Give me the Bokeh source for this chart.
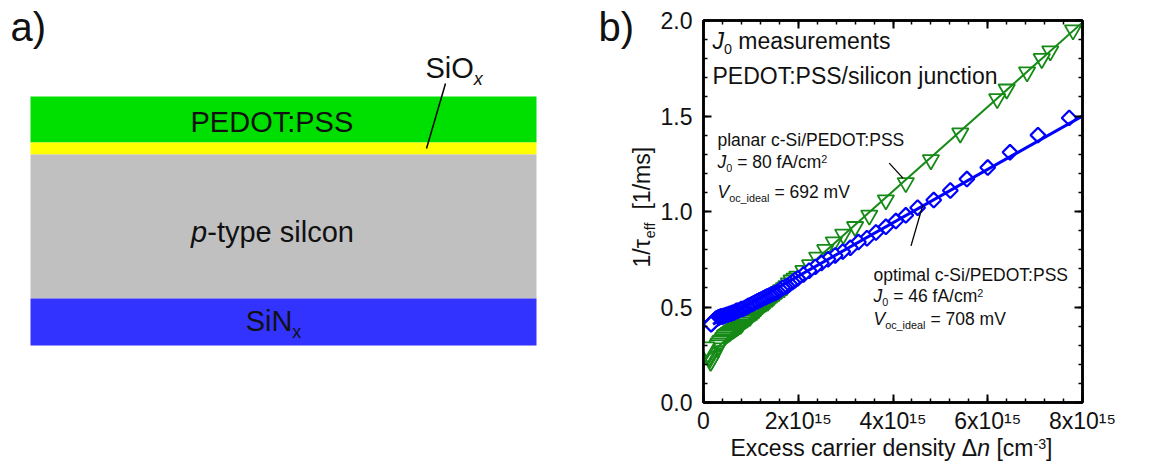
import math
from bokeh.plotting import figure
from bokeh.models import Range1d, LinearAxis, FixedTicker, Label, CustomJSTickFormatter
from bokeh.layouts import row, column
from bokeh.embed import file_html
from bokeh.resources import INLINE

# ---------------- data ----------------
layer_names = ["PEDOT:PSS", "SiOx", "p-type silcon", "SiNx"]
layer_colors = ["#00e000", "#ffff00", "#c0c0c0", "#3333ff"]
layer_thickness = [46, 12, 144, 47]

# excess carrier density in units of 1e15 cm^-3, inverse lifetime in 1/ms
green_dn = [7.80, 7.32, 7.14, 6.83, 6.40, 6.20, 5.42, 4.80, 4.27, 3.85, 3.50, 3.20,
            2.95, 2.75, 2.57, 2.40, 2.25, 2.11,
            1.98, 1.92, 1.86, 1.80, 1.75, 1.70, 1.64, 1.59, 1.54, 1.49, 1.45, 1.40,
            1.36, 1.32, 1.28, 1.24, 1.20, 1.16, 1.12, 1.08, 1.05, 1.01, 0.98, 0.94,
            0.91, 0.88, 0.85, 0.82, 0.79, 0.76, 0.73, 0.70, 0.67, 0.64, 0.61, 0.58,
            0.56, 0.53, 0.50, 0.47, 0.45, 0.42, 0.40, 0.37, 0.35, 0.32, 0.30, 0.28,
            0.26, 0.24, 0.22, 0.20, 0.18, 0.16, 0.15, 0.13, 0.12, 0.10, 0.09, 0.07, 0.06]
green_inv_tau = [1.95, 1.84, 1.80, 1.73, 1.64, 1.59, 1.41, 1.27, 1.15, 1.06, 0.98, 0.92,
                 0.88, 0.84, 0.80, 0.76, 0.72, 0.69,
                 0.66, 0.65, 0.64, 0.625, 0.61, 0.60, 0.59, 0.58, 0.57, 0.56, 0.55, 0.54,
                 0.53, 0.525, 0.52, 0.51, 0.50, 0.49, 0.48, 0.475, 0.47, 0.46, 0.45, 0.445,
                 0.44, 0.435, 0.43, 0.42, 0.41, 0.405, 0.40, 0.395, 0.39, 0.385, 0.38, 0.375,
                 0.37, 0.365, 0.36, 0.355, 0.35, 0.34, 0.33, 0.325, 0.32, 0.31, 0.30, 0.285,
                 0.27, 0.26, 0.25, 0.24, 0.23, 0.22, 0.215, 0.23, 0.24, 0.25, 0.26, 0.28, 0.29]
blue_dn = [7.72, 7.06, 6.47, 6.00, 5.56, 5.21, 4.86, 4.52, 4.27, 4.06, 3.85, 3.64,
           3.45, 3.27, 3.10, 2.94, 2.78, 2.63, 2.49, 2.36, 2.23, 2.11,
           1.99, 1.93, 1.88, 1.82, 1.77, 1.72, 1.67, 1.62, 1.57, 1.52, 1.48, 1.43,
           1.39, 1.34, 1.30, 1.26, 1.22, 1.18, 1.14, 1.10, 1.06, 1.02, 0.98, 0.94,
           0.91, 0.87, 0.84, 0.80, 0.77, 0.73, 0.70, 0.67, 0.64, 0.61, 0.58, 0.55,
           0.52, 0.49, 0.46, 0.43, 0.41, 0.38, 0.36, 0.33, 0.31, 0.29, 0.27, 0.25,
           0.23, 0.21, 0.19, 0.17, 0.16]
blue_inv_tau = [1.49, 1.40, 1.31, 1.23, 1.17, 1.11, 1.06, 1.02, 0.98, 0.95, 0.92, 0.89,
                0.86, 0.84, 0.81, 0.79, 0.77, 0.75, 0.73, 0.71, 0.69, 0.67,
                0.65, 0.64, 0.63, 0.62, 0.61, 0.605, 0.60, 0.59, 0.58, 0.575, 0.57, 0.565,
                0.56, 0.555, 0.55, 0.545, 0.54, 0.535, 0.53, 0.525, 0.52, 0.515, 0.51, 0.505,
                0.50, 0.495, 0.49, 0.49, 0.485, 0.48, 0.48, 0.475, 0.47, 0.47, 0.465, 0.465,
                0.46, 0.46, 0.455, 0.455, 0.45, 0.45, 0.45, 0.445, 0.445, 0.44, 0.44, 0.435,
                0.43, 0.425, 0.42, 0.415, 0.41]
green_fit_dn = [0.12, 8.0]
green_fit_inv_tau = [0.25, 1.99]
blue_fit_dn = [0.20, 8.0]
blue_fit_inv_tau = [0.41, 1.50]

x_tick_values = [0, 2, 4, 6, 8]
x_tick_labels = ["0", "2x10\u00b9\u2075", "4x10\u00b9\u2075", "6x10\u00b9\u2075", "8x10\u00b9\u2075"]
y_tick_values = [0.0, 0.5, 1.0, 1.5, 2.0]
y_tick_labels = ["0.0", "0.5", "1.0", "1.5", "2.0"]

# ---------------- styling helpers ----------------
FONT = "Liberation Sans"
TXT = "#111111"
GREEN = "#168a16"
BLUE = "#0000ff"
BASELINE_FIX = 0.33  # Label draws a little below the requested alphabetic baseline

ARIAL = {' ': 278, '!': 278, '(': 333, ')': 333, '-': 333, '.': 278, '/': 278, ':': 278,
         '=': 584, '[': 278, ']': 278, '_': 556, '\u0394': 668, '\u03c4': 440,
         'A': 667, 'B': 667, 'C': 722, 'D': 722, 'E': 667, 'F': 611, 'G': 778, 'H': 722,
         'I': 278, 'J': 500, 'K': 667, 'L': 556, 'M': 833, 'N': 722, 'O': 778, 'P': 667,
         'Q': 778, 'R': 722, 'S': 667, 'T': 611, 'U': 722, 'V': 667, 'W': 944, 'X': 667,
         'Y': 667, 'Z': 611, 'a': 556, 'b': 556, 'c': 500, 'd': 556, 'e': 556, 'f': 278,
         'g': 556, 'h': 556, 'i': 222, 'j': 222, 'k': 500, 'l': 222, 'm': 833, 'n': 556,
         'o': 556, 'p': 556, 'q': 556, 'r': 333, 's': 500, 't': 278, 'u': 556, 'v': 500,
         'w': 722, 'x': 500, 'y': 500, 'z': 500}


def text_width(s, size):
    return sum(ARIAL.get(c, 556) for c in s) * size / 1000.0


def run_size(style, size):
    return size * 0.62 if ("sub" in style or "sup" in style) else size


def rich(fig, x, y, runs, size, angle=0.0, align="left", color=TXT):
    """Place a line of mixed-style text; x, y are canvas pixels of the baseline start."""
    total = sum(text_width(t, run_size(st, size)) for t, st in runs)
    dx, dy = math.cos(angle), -math.sin(angle)
    px, py = math.sin(angle), math.cos(angle)
    if align == "center":
        x -= dx * total / 2
        y -= dy * total / 2
    cx, cy = x, y
    for t, st in runs:
        s = run_size(st, size)
        shift = -BASELINE_FIX * s
        if "sub" in st:
            shift += size * 0.24
        elif "sup" in st:
            shift -= size * 0.30
        lead = text_width(t[:len(t) - len(t.lstrip())], s)
        body = t.strip()
        bx, by = cx + dx * lead, cy + dy * lead
        if body:
            fig.add_layout(Label(x=bx + shift * px, y=by + shift * py,
                                 x_units="canvas", y_units="canvas", text=body, angle=angle,
                                 text_font=FONT, text_font_size=f"{s:.1f}px",
                                 text_font_style="italic" if st.startswith("i") else "normal",
                                 text_color=color, text_baseline="alphabetic",
                                 text_align="left"))
        w = text_width(t, s)
        cx += dx * w
        cy += dy * w


def no_align(fig):
    if "frame_align" in fig.properties():
        fig.frame_align = False


def blank_canvas(width, height):
    f = figure(width=width, height=height, x_range=Range1d(0, width),
               y_range=Range1d(height, 0), output_backend="svg", toolbar_location=None,
               min_border=0, x_axis_location=None, y_axis_location=None)
    f.grid.visible = False
    f.outline_line_color = None
    f.background_fill_color = "white"
    f.border_fill_color = "white"
    no_align(f)
    return f


# ---------------- panel a: layer stack (plus texts left of panel b) ----------------
left = blank_canvas(657, 466)

stack_top = 96
tops, bottoms = [], []
cur = stack_top
for t in layer_thickness:
    tops.append(cur)
    bottoms.append(cur + t)
    cur += t
left.quad(left=30, right=536, top=tops, bottom=bottoms, fill_color=layer_colors,
          line_color=None)

rich(left, 10, 40, [("a)", "")], 40)
rich(left, 273, 131, [(layer_names[0], "")], 29, align="center")
rich(left, 272, 241, [("p", "i"), ("-type silcon", "")], 29, align="center")
rich(left, 273, 330, [("SiN", ""), ("x", "sub")], 29, align="center")
rich(left, 425, 77, [("SiO", ""), ("x", "isub")], 29)
left.segment(x0=[445], y0=[83], x1=[426], y1=[148], line_color="black", line_width=1.5)

rich(left, 598, 40, [("b)", "")], 40)
rich(left, 649, 267, [("1/\u03c4", ""), ("eff", "sub"), ("  [1/ms]", "")], 23,
     angle=math.pi / 2)

# ---------------- panel b: J0 measurement ----------------
p = figure(width=492, height=436, x_range=Range1d(0, 8), y_range=Range1d(0, 2),
           output_backend="svg", toolbar_location=None,
           min_border_left=45, min_border_right=67, min_border_top=20, min_border_bottom=33)
no_align(p)
p.grid.visible = False
p.background_fill_color = "white"
p.border_fill_color = "white"
p.outline_line_color = "black"
p.outline_line_width = 2.5

x_minor = [i * 0.4 for i in range(21)]
y_minor = [i * 0.1 for i in range(21)]
xt = FixedTicker(ticks=x_tick_values, minor_ticks=x_minor)
yt = FixedTicker(ticks=y_tick_values, minor_ticks=y_minor)


def style_axis(ax):
    ax.axis_line_width = 2.5
    ax.axis_line_color = "black"
    ax.major_tick_in = 8
    ax.major_tick_out = 0
    ax.minor_tick_in = 4
    ax.minor_tick_out = 0
    ax.major_tick_line_width = 2
    ax.minor_tick_line_width = 1.5
    ax.major_label_text_font = FONT
    ax.major_label_text_font_size = "23px"
    ax.major_label_text_color = TXT


p.xaxis.ticker = xt
p.yaxis.ticker = yt
p.xaxis.major_label_overrides = dict(zip(x_tick_values, x_tick_labels))
p.yaxis.major_label_overrides = dict(zip(y_tick_values, y_tick_labels))
for ax in p.xaxis + p.yaxis:
    style_axis(ax)
p.xaxis.major_label_standoff = 5
p.yaxis.major_label_standoff = 11

top_ax = LinearAxis(ticker=xt, formatter=CustomJSTickFormatter(code="return ''"))
right_ax = LinearAxis(ticker=yt, formatter=CustomJSTickFormatter(code="return ''"))
for ax in (top_ax, right_ax):
    style_axis(ax)
    ax.major_label_text_font_size = "0px"
    ax.major_label_standoff = 0
p.add_layout(top_ax, "above")
p.add_layout(right_ax, "right")

p.scatter(green_dn, green_inv_tau, marker="inverted_triangle", size=16.5,
          line_color=GREEN, fill_color="white", line_width=1.8)
p.line(green_fit_dn, green_fit_inv_tau, line_color=GREEN, line_width=2)
p.scatter(blue_dn, blue_inv_tau, marker="square", angle=math.pi / 4, size=10.5,
          line_color=BLUE, fill_color="white", line_width=2.2)
p.line(blue_fit_dn, blue_fit_inv_tau, line_color=BLUE, line_width=3)

# leader lines from the annotations to the curves
p.segment(x0=[3.92, 4.63], y0=[1.253, 1.034], x1=[4.21, 4.38], y1=[1.175, 0.82],
          line_color="black", line_width=1.3)

OX = 657  # canvas x of panel b
rich(p, 712 - OX, 48, [("J", "i"), ("0", "sub"), (" measurements", "")], 23)
rich(p, 712 - OX, 83, [("PEDOT:PSS/silicon junction", "")], 23)

rich(p, 717 - OX, 145, [("planar c-Si/PEDOT:PSS", "")], 17.5)
rich(p, 717 - OX, 167, [("J", "i"), ("0", "sub"), (" = 80 fA/cm", ""), ("2", "sup")], 17.5)
rich(p, 717 - OX, 197, [("V", "i"), ("oc_ideal", "sub"), (" = 692 mV", "")], 17.5)

rich(p, 873 - OX, 280, [("optimal c-Si/PEDOT:PSS", "")], 17.5)
rich(p, 873 - OX, 301, [("J", "i"), ("0", "sub"), (" = 46 fA/cm", ""), ("2", "sup")], 17.5)
rich(p, 873 - OX, 324, [("V", "i"), ("oc_ideal", "sub"), (" = 708 mV", "")], 17.5)

# ---------------- x-axis title strip ----------------
xlab = blank_canvas(492, 30)
rich(xlab, 730 - OX, 19, [("Excess carrier density ", ""), ("\u0394", ""), ("n", "i"),
                          (" [cm", ""), ("-3", "sup"), ("]", "")], 23)

layout = row(left, column(p, xlab))
open("out.html", "w").write(file_html(layout, INLINE))
